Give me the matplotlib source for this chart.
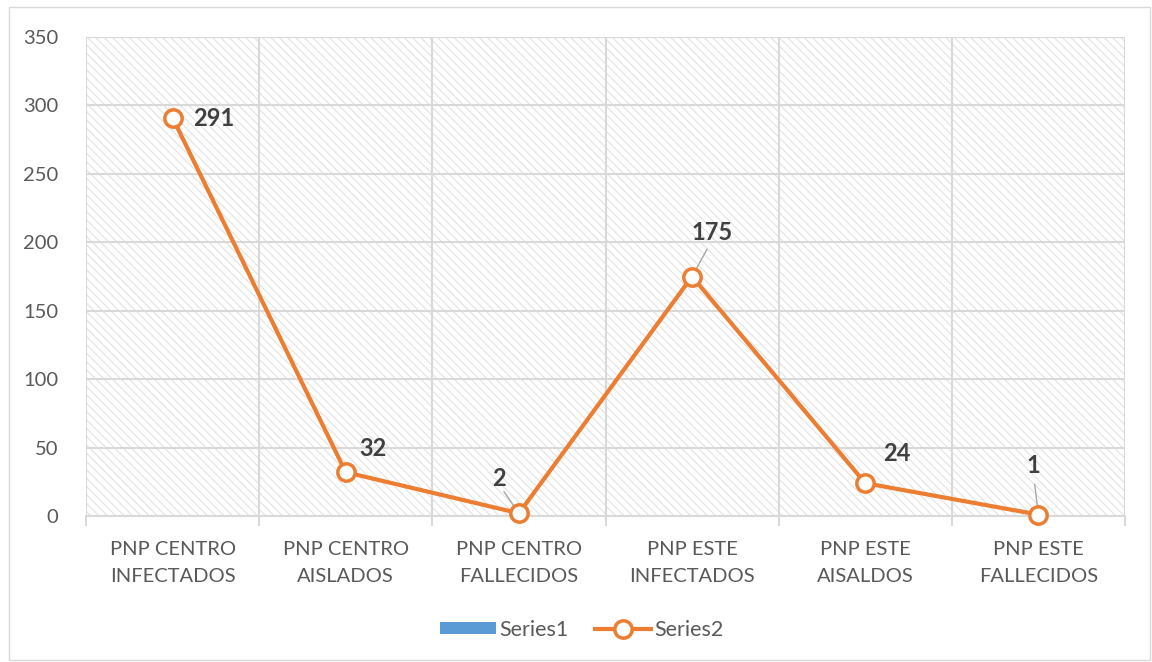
import matplotlib.pyplot as plt
from matplotlib.patches import Patch, Rectangle
from matplotlib.lines import Line2D
import numpy as np

plt.rcParams['font.family'] = ['Lato', 'DejaVu Sans']
plt.rcParams['hatch.linewidth'] = 0.8

categories = ['PNP CENTRO\nINFECTADOS', 'PNP CENTRO\nAISLADOS', 'PNP CENTRO\nFALLECIDOS',
              'PNP ESTE\nINFECTADOS', 'PNP ESTE\nAISALDOS', 'PNP ESTE\nFALLECIDOS']
series2 = [291, 32, 2, 175, 24, 1]
# label offsets (pixels) and whether a leader line is drawn
label_offsets = [(41, -1), (27, 24), (-20, 35), (20, 44), (32, 30), (-5, 49)]
leaders = [False, False, True, True, False, True]

orange = '#ED7D31'
grid_c = '#D9D9D9'
text_c = '#595959'

fig = plt.figure(figsize=(11.52, 6.62), dpi=100)
fig.patches.append(Rectangle((9 / 1152, 2 / 662), 1141 / 1152, 653 / 662, transform=fig.transFigure,
                             fill=False, edgecolor=grid_c, linewidth=1))
ax = fig.add_axes([86 / 1152, 1 - 516 / 662, 1039 / 1152, 479 / 662])

x = np.arange(len(categories))
ax.set_xlim(-0.5, len(categories) - 0.5)
ax.set_ylim(0, 350)

# hatched plot area
ax.add_patch(Rectangle((0, 0), 1, 1, transform=ax.transAxes, facecolor='white',
                       hatch='\\\\\\\\', edgecolor='#E2E2E2', linewidth=0, zorder=0))

# Grid
ax.set_yticks(np.arange(0, 351, 50))
ax.yaxis.grid(True, color=grid_c, linewidth=1.5, zorder=1)
for b in np.arange(-0.5, len(categories), 1.0):
    ax.axvline(b, color=grid_c, linewidth=1.5, zorder=1)
ax.set_axisbelow(True)
for s in ax.spines.values():
    s.set_visible(False)
ax.spines['bottom'].set_visible(True)
ax.spines['bottom'].set_color(grid_c)
ax.spines['bottom'].set_linewidth(1.5)

ax.set_xticks(x)
ax.set_xticklabels(categories)
ax.set_xticks(np.arange(-0.5, len(categories), 1.0), minor=True)
ax.tick_params(axis='x', which='major', length=0, pad=18, labelsize=14.5, labelcolor=text_c)
ax.tick_params(axis='x', which='minor', length=7, width=1.5, color=grid_c)
ax.tick_params(axis='y', length=0, pad=20, labelsize=14.5, labelcolor=text_c)
for lbl in ax.get_xticklabels():
    lbl.set_linespacing(1.7)

ax.plot(x, series2, color=orange, linewidth=3, marker='o', markersize=12.5,
        markerfacecolor='white', markeredgecolor=orange, markeredgewidth=2.5, zorder=5, clip_on=False)

for xi, v, (dx, dy), lead in zip(x, series2, label_offsets, leaders):
    ax.annotate(str(v), (xi, v), xytext=(dx, dy), textcoords='offset pixels',
                ha='center', va='center', fontsize=17, fontweight='bold', color='#404040', zorder=6)
    if lead:
        ax.annotate('', (xi, v), xytext=(dx * 0.75, dy * 0.62), textcoords='offset pixels',
                    arrowprops=dict(arrowstyle='-', color='#A6A6A6', linewidth=1, shrinkA=0, shrinkB=4), zorder=4)

handles = [Patch(facecolor='#5B9BD5', edgecolor='none'),
           Line2D([0], [0], color=orange, linewidth=3, marker='o', markersize=12.5,
                  markerfacecolor='white', markeredgecolor=orange, markeredgewidth=2.5)]
fig.legend(handles, ['Series1', 'Series2'], loc='center', bbox_to_anchor=(0.505, 1 - 630 / 662), ncol=2,
           frameon=False, fontsize=15.5, labelcolor=text_c, handlelength=2.6, handleheight=0.5,
           columnspacing=1.2, handletextpad=0.15)

fig.savefig('out.png', dpi=100)
